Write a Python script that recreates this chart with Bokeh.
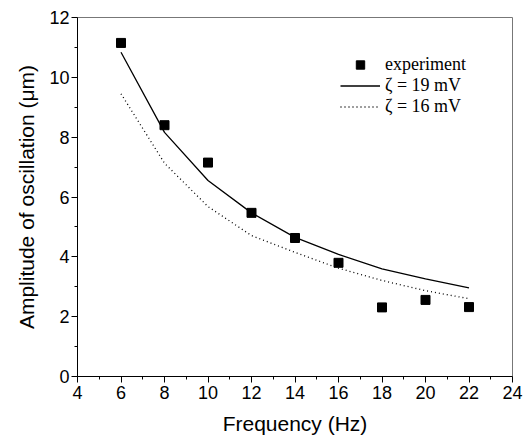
from bokeh.plotting import figure
from bokeh.models import Legend, LegendItem, FixedTicker, Range1d
from bokeh.embed import file_html
from bokeh.resources import INLINE

freq = [6, 8, 10, 12, 14, 16, 18, 20, 22]
experiment = [11.15, 8.4, 7.15, 5.47, 4.63, 3.8, 2.31, 2.56, 2.32]
zeta19 = [10.84, 8.16, 6.55, 5.47, 4.65, 4.08, 3.60, 3.26, 2.96]
zeta16 = [9.45, 7.13, 5.68, 4.71, 4.15, 3.62, 3.21, 2.87, 2.60]
x_ticks = [4, 6, 8, 10, 12, 14, 16, 18, 20, 22, 24]
y_ticks = [0, 2, 4, 6, 8, 10, 12]

p = figure(width=523, height=443, output_backend="svg", toolbar_location=None,
           x_range=Range1d(4, 24), y_range=Range1d(0, 12),
           min_border_left=77, min_border_right=11, min_border_top=17, min_border_bottom=67)
p.xgrid.visible = False
p.ygrid.visible = False
p.outline_line_color = "#777777"
p.outline_line_width = 1

r_exp = p.scatter(freq, experiment, marker="square", size=9, color="black")
r19 = p.line(freq, zeta19, line_color="black", line_width=1.3)
r16 = p.line(freq, zeta16, line_color="black", line_width=1.3, line_dash="1 3")

for ax, ticks in ((p.xaxis, x_ticks), (p.yaxis, y_ticks)):
    ax.ticker = FixedTicker(ticks=ticks, minor_ticks=[t + 1 for t in ticks[:-1]])
    ax.major_tick_in = 0
    ax.major_tick_out = 6
    ax.minor_tick_in = 0
    ax.minor_tick_out = 3
    ax.axis_line_color = "black"
    ax.major_tick_line_color = "black"
    ax.minor_tick_line_color = "black"
    ax.major_label_text_font = "Liberation Sans"
    ax.major_label_text_font_size = "18px"
    ax.major_label_text_color = "black"
    ax.axis_label_text_font = "Liberation Sans"
    ax.axis_label_text_font_size = "21px"
    ax.axis_label_text_font_style = "normal"
    ax.axis_label_text_color = "black"

p.xaxis.axis_label = "Frequency (Hz)"
p.yaxis.axis_label = "Amplitude of oscillation (μm)"
p.xaxis.axis_label_standoff = 10
p.yaxis.axis_label_standoff = 8
p.xaxis.major_label_standoff = 3
p.yaxis.major_label_standoff = 2

legend = Legend(items=[
    LegendItem(label="experiment", renderers=[r_exp]),
    LegendItem(label="ζ = 19 mV", renderers=[r19]),
    LegendItem(label="ζ = 16 mV", renderers=[r16]),
], location=(263, 259))
legend.label_text_font = "Liberation Serif"
legend.label_text_font_size = "18px"
legend.label_text_color = "black"
legend.border_line_color = None
legend.background_fill_alpha = 0
legend.glyph_width = 40
legend.glyph_height = 21
legend.label_height = 21
legend.spacing = 0
legend.padding = 2
legend.label_standoff = 5
p.add_layout(legend, "center")

open("out.html", "w").write(file_html(p, INLINE))
